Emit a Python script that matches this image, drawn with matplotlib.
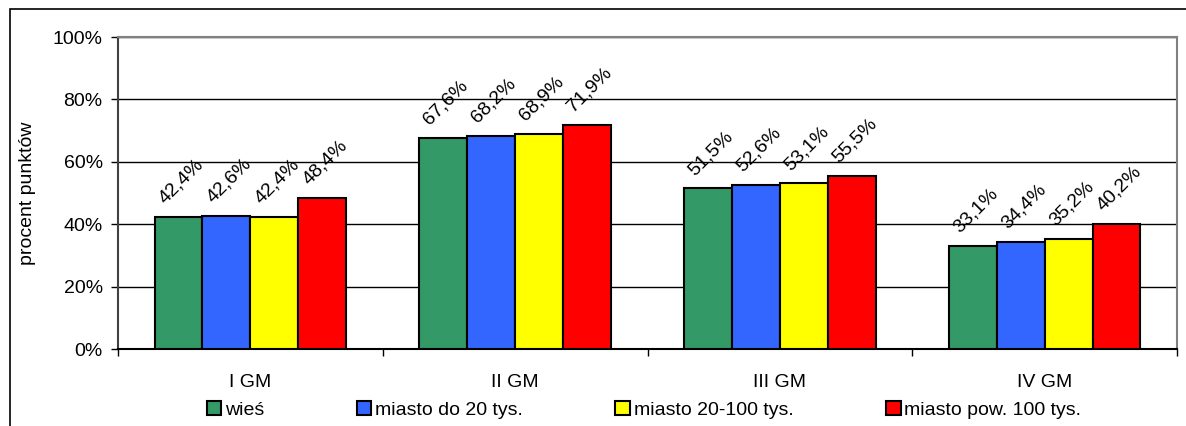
import numpy as np
import matplotlib.pyplot as plt
from matplotlib.patches import Rectangle

plt.rcParams["font.family"] = ["Liberation Sans", "DejaVu Sans"]

categories = ["I GM", "II GM", "III GM", "IV GM"]
series_names = ["wieś", "miasto do 20 tys.", "miasto 20-100 tys.", "miasto pow. 100 tys."]
wies = [42.4, 67.6, 51.5, 33.1]
miasto_do_20 = [42.6, 68.2, 52.6, 34.4]
miasto_20_100 = [42.4, 68.9, 53.1, 35.2]
miasto_pow_100 = [48.4, 71.9, 55.5, 40.2]
colors = ["#339966", "#3366FF", "#FFFF00", "#FF0000"]

series = [wies, miasto_do_20, miasto_20_100, miasto_pow_100]
FS = 14

fig = plt.figure(figsize=(11.86, 4.26), dpi=100)
ax = fig.add_axes([118 / 1186, 1 - 349 / 426, (1177 - 118) / 1186, (349 - 37) / 426])

# outer frame of the chart object (cut off at the right and bottom)
fig.patches.append(Rectangle((10 / 1186, -0.2), 2, 1.2 - 9 / 426, transform=fig.transFigure,
                             fill=False, edgecolor="black", linewidth=1.2))

x = np.arange(len(categories))
width = 0.181
for i, (vals, name, col) in enumerate(zip(series, series_names, colors)):
    pos = x + (i - 1.5) * width
    bars = ax.bar(pos, vals, width, color=col, edgecolor="black", linewidth=1.5,
                  label=name, zorder=3)
    for b, v in zip(bars, vals):
        ax.annotate(f"{v:.1f}%".replace(".", ","), (b.get_x() + b.get_width() / 2, v),
                    xytext=(2, 7), textcoords="offset points", ha="center", va="bottom",
                    rotation=45, fontsize=FS, zorder=4)

ax.set_xlim(-0.5, len(categories) - 0.5)
ax.set_ylim(0, 100)
ax.set_yticks(range(0, 101, 20))
ax.set_yticklabels([f"{t}%" for t in range(0, 101, 20)], fontsize=FS)
ax.yaxis.grid(True, color="black", linewidth=1, zorder=0)
ax.set_axisbelow(True)
ax.tick_params(axis="y", direction="out", length=5, width=1, pad=6)

ax.set_xticks(np.arange(-0.5, len(categories), 1))
ax.set_xticklabels([])
ax.set_xticks(x, minor=True)
ax.set_xticklabels(categories, minor=True, fontsize=FS)
ax.tick_params(axis="x", which="major", direction="out", length=5, width=1)
ax.tick_params(axis="x", which="minor", length=0, pad=18)

for side in ["top", "right"]:
    ax.spines[side].set_color("#808080")
    ax.spines[side].set_linewidth(1.5)
ax.spines["left"].set_color("#404040")
ax.spines["left"].set_linewidth(1.5)
ax.spines["bottom"].set_linewidth(1.5)

ax.set_ylabel("procent punktów", fontsize=FS, labelpad=12)

handles, labels = ax.get_legend_handles_labels()
fig.legend(handles, labels, loc="center", bbox_to_anchor=(644 / 1186, 1 - 410 / 426),
           ncol=4, frameon=False, fontsize=FS, handlelength=0.75, handleheight=0.75,
           handletextpad=0.2, columnspacing=4.75, borderaxespad=0)

fig.savefig("out.png", dpi=100)
